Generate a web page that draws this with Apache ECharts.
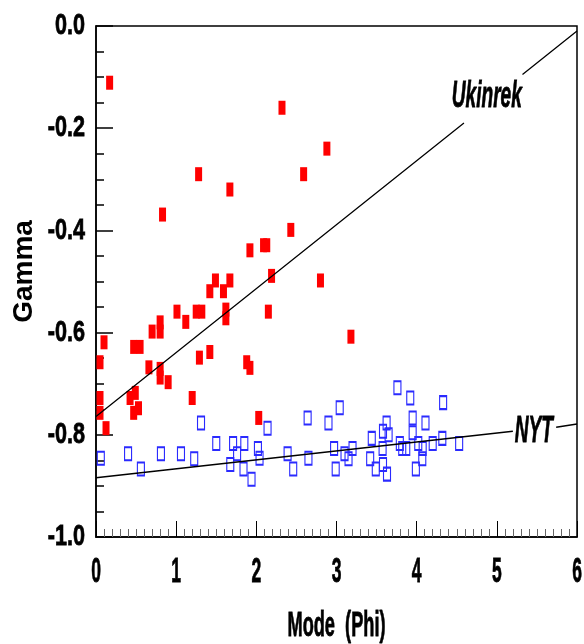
<!DOCTYPE html>
<html>
<head>
<meta charset="utf-8">
<script src="https://cdn.jsdelivr.net/npm/echarts@6/dist/echarts.min.js"></script>
<style>
  html, body { margin: 0; padding: 0; background: #fff; }
  #main { width: 584px; height: 644px; }
</style>
</head>
<body>
<div id="main"></div>
<script>
// Ukinrek samples (filled red)
const ukinrekX = [0.17, 2.32, 2.88, 1.28, 2.59, 1.67, 0.83, 2.43, 2.09, 2.13,
  1.92, 2.19, 1.49, 1.67, 2.80, 1.42, 1.59, 1.01, 1.25, 1.32,
  1.62, 1.62, 2.15, 1.12, 0.80, 0.70, 0.80, 3.18, 0.10, 0.47,
  0.55, 1.42, 1.29, 0.05, 1.88, 1.92, 0.66, 0.80, 0.80, 0.90,
  1.20, 0.05, 0.425, 0.49, 0.05, 0.47, 0.53, 0.125, 2.03];
const ukinrekY = [-0.111, -0.160, -0.240, -0.290, -0.290, -0.320, -0.369, -0.399, -0.429, -0.429,
  -0.439, -0.489, -0.498, -0.498, -0.498, -0.519, -0.519, -0.559, -0.559, -0.559,
  -0.555, -0.572, -0.559, -0.579, -0.580, -0.598, -0.598, -0.608, -0.619, -0.628,
  -0.628, -0.638, -0.649, -0.658, -0.658, -0.669, -0.668, -0.671, -0.688, -0.697,
  -0.728, -0.728, -0.728, -0.718, -0.757, -0.757, -0.748, -0.787, -0.767];

// NYT samples (open blue)
const nytX = [0.06, 0.40, 0.56, 0.81, 1.06, 1.225, 1.31, 1.50, 1.675, 1.71,
  1.76, 1.85, 1.84, 1.94, 2.02, 2.04, 2.14, 2.39, 2.46, 2.64,
  2.65, 2.90, 2.97, 2.99, 3.04, 3.10, 3.15, 3.20, 3.42, 3.44,
  3.49, 3.575, 3.58, 3.63, 3.625, 3.58, 3.65, 3.76, 3.79, 3.82,
  3.87, 3.92, 3.95, 3.95, 4.02, 4.075, 4.07, 3.99, 4.11, 4.20,
  4.32, 4.33, 4.53];
const nytY = [-0.846, -0.837, -0.867, -0.837, -0.837, -0.847, -0.777, -0.817, -0.858, -0.817,
  -0.837, -0.817, -0.867, -0.887, -0.827, -0.846, -0.787, -0.837, -0.867, -0.767,
  -0.846, -0.777, -0.827, -0.867, -0.747, -0.837, -0.847, -0.827, -0.847, -0.807,
  -0.867, -0.827, -0.858, -0.877, -0.777, -0.793, -0.800, -0.708, -0.817, -0.827,
  -0.827, -0.728, -0.767, -0.796, -0.817, -0.827, -0.847, -0.867, -0.777, -0.817,
  -0.807, -0.737, -0.817];

// fitted lines, broken where the label sits
const ukinrekLine = [[0, -0.764], [4.59, -0.190], ['-', '-'], [5.32, -0.095], [6, -0.010]];
const nytLine = [[0, -0.884], [5.20, -0.793], ['-', '-'], [5.74, -0.785], [6, -0.779]];

const xTicks = [0, 1, 2, 3, 4, 5, 6];
const xTickLabels = ['0', '1', '2', '3', '4', '5', '6'];
const yTicks = [0, -0.2, -0.4, -0.6, -0.8, -1.0];
const yTickLabels = ['0.0', '-0.2', '-0.4', '-0.6', '-0.8', '-1.0'];

// line labels: [text, x, y]
const lineLabels = [['Ukinrek', 4.875, -0.139], ['NYT', 5.46, -0.794]];

const sans = "'Liberation Sans', Arial, sans-serif";

function zip(xs, ys) {
  return xs.map((x, i) => [x, ys[i]]);
}

const option = {
  animation: false,
  backgroundColor: '#fff',
  grid: {
    left: 96, right: 7, top: 26, bottom: 107,
    outerBoundsMode: 'none',
    containLabel: false,
    show: true, borderColor: '#000', borderWidth: 1.5
  },
  xAxis: {
    type: 'value',
    min: 0, max: 6, interval: 1,
    axisLine: { onZero: false, lineStyle: { color: '#000', width: 1.5 } },
    axisTick: { inside: true, length: 16, lineStyle: { color: '#000', width: 1 } },
    minorTick: { show: true, splitNumber: 10, length: 8, lineStyle: { color: '#666', width: 1 } },
    splitLine: { show: false },
    axisLabel: { show: false }
  },
  yAxis: {
    type: 'value',
    min: -1, max: 0, interval: 0.2,
    name: 'Gamma',
    nameLocation: 'middle',
    nameGap: 58,
    nameTextStyle: {
      fontFamily: sans, fontWeight: 'bold', fontSize: 28, color: '#000',
      padding: [0, 0, 0, 20]
    },
    axisLine: { onZero: false, lineStyle: { color: '#000', width: 1.5 } },
    axisTick: { inside: true, length: 17, lineStyle: { color: '#000', width: 1.5 } },
    minorTick: { show: true, splitNumber: 4, length: 8, lineStyle: { color: '#000', width: 1.5 } },
    splitLine: { show: false },
    axisLabel: { show: false }
  },
  series: [
    {
      name: 'Ukinrek',
      type: 'scatter',
      symbol: 'rect',
      symbolSize: [7, 14],
      itemStyle: { color: '#ff0000', opacity: 1 },
      data: zip(ukinrekX, ukinrekY),
      z: 2
    },
    {
      name: 'NYT',
      type: 'scatter',
      symbol: 'rect',
      symbolSize: [7, 13],
      itemStyle: { color: 'rgba(0,0,0,0)', borderColor: '#2a2aff', borderWidth: 1.5, opacity: 1 },
      data: zip(nytX, nytY),
      z: 2
    },
    {
      type: 'line',
      data: ukinrekLine,
      showSymbol: false,
      connectNulls: false,
      lineStyle: { color: '#000', width: 1.3 },
      z: 3
    },
    {
      type: 'line',
      data: nytLine,
      showSymbol: false,
      connectNulls: false,
      lineStyle: { color: '#000', width: 1.5 },
      z: 3
    }
  ]
};

const myChart = echarts.init(document.getElementById('main'));
myChart.setOption(option);

// condensed text: the original uses a tall narrow face, so squeeze it horizontally
function squeezed(text, x, y, size, sx, align, italic) {
  return {
    type: 'text',
    x: x, y: y,
    scaleX: sx,
    z: 10,
    style: {
      text: text,
      fontFamily: sans,
      fontWeight: 'bold',
      fontStyle: italic ? 'italic' : 'normal',
      fontSize: size,
      fill: '#000',
      stroke: '#000',
      lineWidth: 0.8,
      align: align,
      verticalAlign: 'middle'
    }
  };
}

const px = v => myChart.convertToPixel({ gridIndex: 0 }, v);
const graphics = [];
xTicks.forEach((v, i) => {
  const p = px([v, -1]);
  graphics.push(squeezed(xTickLabels[i], p[0], p[1] + 35, 35, 0.5, 'center'));
});
yTicks.forEach((v, i) => {
  const p = px([0, v]);
  graphics.push(squeezed(yTickLabels[i], p[0] - 11, p[1], 30, 0.72, 'right'));
});
const mid = px([3, -1]);
graphics.push(squeezed('Mode  (Phi)', mid[0], mid[1] + 89, 35, 0.52, 'center'));
lineLabels.forEach(([text, x, y]) => {
  const p = px([x, y]);
  graphics.push(squeezed(text, p[0], p[1], 36, 0.53, 'center', true));
});

myChart.setOption({ graphic: graphics });
</script>
</body>
</html>
